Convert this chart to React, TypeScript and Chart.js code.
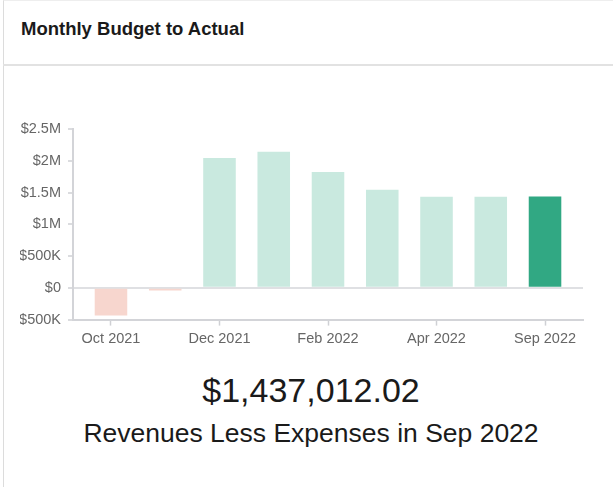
import React, { useEffect, useRef } from 'react';
import { Chart, registerables } from 'chart.js';

Chart.register(...registerables);

const months = ['Oct 2021', 'Nov 2021', 'Dec 2021', 'Jan 2022', 'Feb 2022', 'Mar 2022', 'Apr 2022', 'Aug 2022', 'Sep 2022'];
const netValues = [-435000, -42000, 2045000, 2140000, 1825000, 1542000, 1433000, 1433000, 1437012.02];
const yTickLabels = ['-$500K', '$0', '$500K', '$1M', '$1.5M', '$2M', '$2.5M'];
const headline = '$1,437,012.02';
const subline = 'Revenues Less Expenses in Sep 2022';
const title = 'Monthly Budget to Actual';

const FONT = '"Liberation Sans", Arial, Helvetica, sans-serif';

export default function App() {
  const ref = useRef<HTMLCanvasElement | null>(null);

  useEffect(() => {
    if (!ref.current) return;
    const last = netValues.length - 1;
    const chart = new Chart(ref.current, {
      type: 'bar',
      data: {
        datasets: [
          {
            data: netValues.map((v, i) => ({ x: i, y: v })),
            backgroundColor: (ctx: any) => {
              const i = ctx.dataIndex;
              const v = netValues[i];
              if (i === last) return '#31a883';
              return v < 0 ? '#f7d6ce' : '#c9e9df';
            },
            borderWidth: 0,
            barPercentage: 0.6,
            categoryPercentage: 1,
          },
        ],
      },
      options: {
        animation: false,
        responsive: false,
        maintainAspectRatio: false,
        layout: { padding: { top: 29, right: 31, bottom: 2, left: 0 } },
        plugins: { legend: { display: false }, tooltip: { enabled: false } },
        scales: {
          x: {
            type: 'linear',
            offset: false,
            min: -0.7,
            max: 8.7,
            grid: { offset: false, drawOnChartArea: false, drawTicks: true, tickLength: 6, tickColor: '#cfd0d4', tickWidth: 1.5 },
            border: { display: true, color: '#d3d4d8', width: 2 },
            ticks: {
              stepSize: 2,
              includeBounds: false,
              padding: 5,
              color: '#666',
              font: { family: FONT, size: 14.5 },
              callback: (value: any) => months[value as number] ?? null,
            },
          },
          y: {
            min: -500000,
            max: 2500000,
            afterFit: (scale: any) => {
              scale.width = 53;
            },
            grid: {
              drawOnChartArea: true,
              drawTicks: true,
              tickLength: 5,
              tickColor: '#cfd0d4',
              tickWidth: 1.5,
              lineWidth: 2,
              color: (ctx: any) => (ctx.tick && ctx.tick.value === 0 ? '#dfe0e3' : 'rgba(0,0,0,0)'),
            },
            border: { display: true, color: '#d3d4d8', width: 2 },
            ticks: {
              stepSize: 500000,
              padding: 7,
              color: '#666',
              font: { family: FONT, size: 14.5 },
              callback: (_v: any, index: number) => yTickLabels[index],
            },
          },
        },
      },
    } as any);
    return () => chart.destroy();
  }, []);

  return (
    <div style={{ position: 'absolute', left: 0, top: 0, width: 613, height: 487, overflow: 'hidden', background: '#fff', fontFamily: FONT }}>
      <div
        style={{
          position: 'absolute',
          left: 3,
          top: 0,
          width: 620,
          height: 500,
          borderLeft: '1px solid #dcdcdc',
          borderTop: '1px solid #eeeeee',
          boxSizing: 'border-box',
        }}
      />
      <div
        style={{
          position: 'absolute',
          left: 3,
          top: 64,
          width: 620,
          height: 0,
          borderTop: '2px solid #e2e2e2',
        }}
      />
      <div
        style={{
          position: 'absolute',
          left: 21,
          top: 20,
          fontSize: 18.5,
          lineHeight: '18.5px',
          fontWeight: 'bold',
          color: '#1a1a1a',
          whiteSpace: 'nowrap',
        }}
      >
        {title}
      </div>
      <canvas ref={ref} width={594} height={255} style={{ position: 'absolute', left: 20, top: 100, width: 594, height: 255 }} />
      <div
        style={{
          position: 'absolute',
          left: 3,
          width: 616,
          top: 373,
          textAlign: 'center',
          fontSize: 34,
          lineHeight: '34px',
          color: '#1a1a1a',
          whiteSpace: 'nowrap',
        }}
      >
        {headline}
      </div>
      <div
        style={{
          position: 'absolute',
          left: 3,
          width: 616,
          top: 420,
          textAlign: 'center',
          fontSize: 26.5,
          lineHeight: '26.5px',
          color: '#1a1a1a',
          whiteSpace: 'nowrap',
        }}
      >
        {subline}
      </div>
    </div>
  );
}
